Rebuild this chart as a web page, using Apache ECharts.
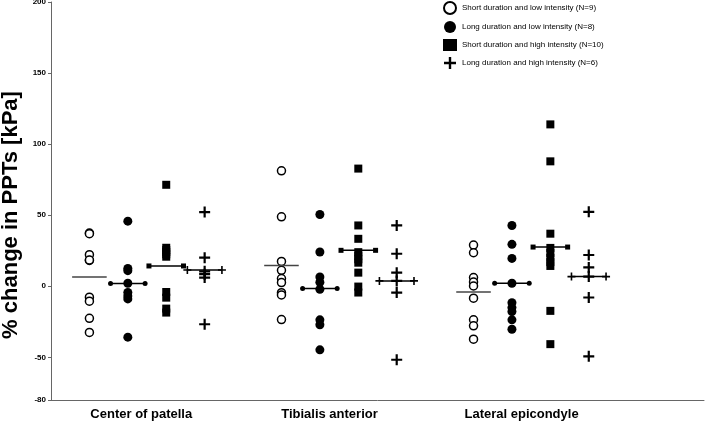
<!DOCTYPE html>
<html><head><meta charset="utf-8">
<script src="https://cdn.jsdelivr.net/npm/echarts@6/dist/echarts.min.js"></script>
<style>html,body{margin:0;padding:0;background:#fff}#c{width:705px;height:421px}</style>
</head><body><div id="c"></div>
<script>
const categories = ['Center of patella', 'Tibialis anterior', 'Lateral epicondyle'];
const seriesNames = ['Short duration and low intensity (N=9)', 'Long duration and low intensity (N=8)', 'Short duration and high intensity (N=10)', 'Long duration and high intensity (N=6)'];
const yTicks = [-80, -50, 0, 50, 100, 150, 200];
// values per group (Center of patella, Tibialis anterior, Lateral epicondyle)
const shortLow = [[37.4, 37.0, 22.2, 18.2, 18.5, -7.7, -10.5, -22.5, -32.5], [81.2, 48.9, 17.5, 11.2, 5.4, 2.6, -4.5, -6.1, -23.4], [29.0, 23.6, 6.1, 3.0, 0.2, -8.4, -23.6, -27.8, -37.2]];
const longLow = [[45.8, 12.6, 11.0, 2.1, -4.4, -6.8, -8.9, -35.8], [50.5, 24.1, 6.5, 2.8, -2.1, -23.6, -27.1, -44.7], [42.8, 29.5, 19.6, 2.1, -11.5, -15.0, -17.8, -23.6, -30.2]];
const shortHigh = [[71.4, 27.1, 25.5, 24.1, 22.5, 20.8, -4.0, -8.0, -15.7, -18.5], [82.8, 42.8, 33.4, 24.0, 21.5, 19.0, 16.6, 9.6, -0.2, -4.4], [113.9, 87.9, 37.0, 27.0, 23.5, 20.0, 17.0, 14.3, -17.3, -40.7]];
const longHigh = [[52.2, 20.1, 10.5, 8.5, 6.1, -26.7], [42.8, 22.9, 9.6, 3.8, -4.4, -51.7], [52.4, 22.0, 13.3, 6.8, -7.9, -49.3]];
// group mean lines
const meanShortLow = [6.6, 14.7, -4.0];
const meanLongLow = [1.9, -1.6, 2.1];
const meanShortHigh = [14.3, 25.3, 27.6];
const meanLongHigh = [11.5, 3.8, 6.8];

const allValues = [shortLow, longLow, shortHigh, longHigh];
const allMeans = [meanShortLow, meanLongLow, meanShortHigh, meanLongHigh];
const plusPath = 'path://M4,0H6V4H10V6H6V10H4V6H0V4H4Z';
const symbols = [
  {symbol: 'circle', size: 8, style: {color: '#fff', borderColor: '#000', borderWidth: 1.5, opacity: 1}},
  {symbol: 'circle', size: 9, style: {color: '#000', opacity: 1}},
  {symbol: 'rect', size: 8, style: {color: '#000', opacity: 1}},
  {symbol: plusPath, size: 11, style: {color: '#000', opacity: 1}}
];
const endSym = [
  {symbol: 'none', size: 0},
  {symbol: 'circle', size: 5},
  {symbol: 'rect', size: 5},
  {symbol: plusPath, size: 8}
];
const series = [];
const half = 0.09;
allValues.forEach((vals, j) => {
  const data = [];
  vals.forEach((arr, i) => arr.forEach(v => data.push([i + 0.2 * (j + 1), v])));
  series.push({
    name: seriesNames[j], type: 'scatter', data: data,
    symbol: symbols[j].symbol, symbolSize: symbols[j].size,
    itemStyle: symbols[j].style, z: 3
  });
  allMeans[j].forEach((m, i) => {
    const cx = i + 0.2 * (j + 1);
    series.push({
      type: 'line', data: [[cx - half, m], [cx + half, m]],
      symbol: endSym[j].symbol, symbolSize: endSym[j].size, showSymbol: endSym[j].symbol !== 'none',
      lineStyle: {color: j === 0 ? '#444' : '#000', width: 1.5},
      itemStyle: {color: '#000', opacity: 1}, z: 4, silent: true
    });
  });
});

const chart = echarts.init(document.getElementById('c'), null, {renderer: 'canvas'});
chart.setOption({
  animation: false,
  textStyle: {fontFamily: 'Liberation Sans, Arial, sans-serif'},
  grid: {left: 51, right: 1, top: 2, bottom: 21, outerBoundsMode: 'none', containLabel: false},
  legend: {
    data: seriesNames, orient: 'vertical', left: 438, top: -4,
    itemWidth: 14, itemHeight: 12, itemGap: 6,
    textStyle: {fontSize: 8, color: '#000', fontFamily: 'Liberation Sans, Arial, sans-serif'}
  },
  xAxis: {
    type: 'value', min: 0, max: 3.4,
    splitLine: {show: false},
    axisLine: {onZero: false, lineStyle: {color: '#666', width: 1}},
    axisTick: {show: false},
    axisLabel: {
      customValues: [0.47, 1.45, 2.45],
      formatter: (v) => { const k = [0.47, 1.45, 2.45].findIndex(x => Math.abs(x - v) < 1e-6); return k >= 0 ? categories[k] : ''; },
      fontWeight: 'bold', fontSize: 13, color: '#000', margin: 8
    }
  },
  yAxis: {
    type: 'value', min: -80, max: 200,
    name: '% change in PPTs [kPa]', nameLocation: 'middle', nameGap: 28,
    nameTextStyle: {fontSize: 22, fontWeight: 'bold', color: '#000', padding: [0, 28, 0, 0]},
    splitLine: {show: false},
    axisLine: {show: true, lineStyle: {color: '#666', width: 1}},
    axisTick: {show: true, length: 3, customValues: yTicks, lineStyle: {color: '#666'}},
    axisLabel: {customValues: yTicks, fontSize: 8, fontWeight: 'bold', color: '#000', margin: 5}
  },
  series: series
});
</script></body></html>
